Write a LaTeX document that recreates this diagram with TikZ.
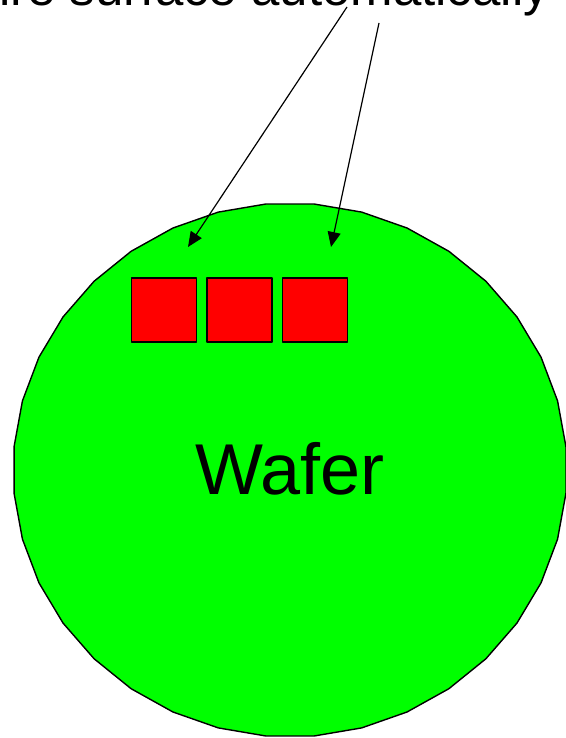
\documentclass[tikz,border=0pt]{standalone}
\usepackage{fontspec}
\setmainfont{Liberation Sans}
\usetikzlibrary{arrows.meta}

\definecolor{wafergreen}{RGB}{0,255,0}
\definecolor{diered}{RGB}{255,0,0}

\tikzset{
	die/.style={draw=black, fill=diered, line width=1.3pt, minimum width=65pt, minimum height=64pt, inner sep=0pt},
	pointer/.style={-{Triangle[length=15pt,width=13pt]}, line width=1.2pt}
}

\begin{document}
\begin{tikzpicture}[x=1pt, y=-1pt, line join=round]
	% Window (pixel grid of the picture, y pointing down)
	\useasboundingbox (0,0) rectangle (565,738);
	
	% Wafer outline: a 36-gon close to an ellipse
	\def\cx{290} \def\cy{470}
	\def\rx{277} \def\ry{267}
	\draw[black, fill=wafergreen, line width=1.4pt, samples=37, domain=5:365]
	plot({\cx+\rx*cos(\x)}, {\cy+\ry*sin(\x)}) -- cycle;
	
	% Label of the wafer
	\node[anchor=base, font=\fontsize{72}{80}\selectfont] (wafer) at (290,494) {Wafer};
	
	% Row of dies near the top
	\foreach \i in {1,2,3}
	\node[die] (die\i) at ({88.5+75.5*\i},310) {};
	
	% Caption at the top (cut by the window)
	\node[anchor=base west, inner sep=0pt, font=\fontsize{51}{60}\selectfont] (caption) at (-1,5.5) {ire surface automatically};
	
	% Arrows from the caption down to the dies
	\coordinate (tailA) at (347,7);
	\coordinate (tailB) at (379,23);
	\coordinate (tipA) at (188,247);
	\coordinate (tipB) at (331,247);
	\draw[pointer] (tailA) -- (tipA);
	\draw[pointer] (tailB) -- (tipB);
\end{tikzpicture}
\end{document}
